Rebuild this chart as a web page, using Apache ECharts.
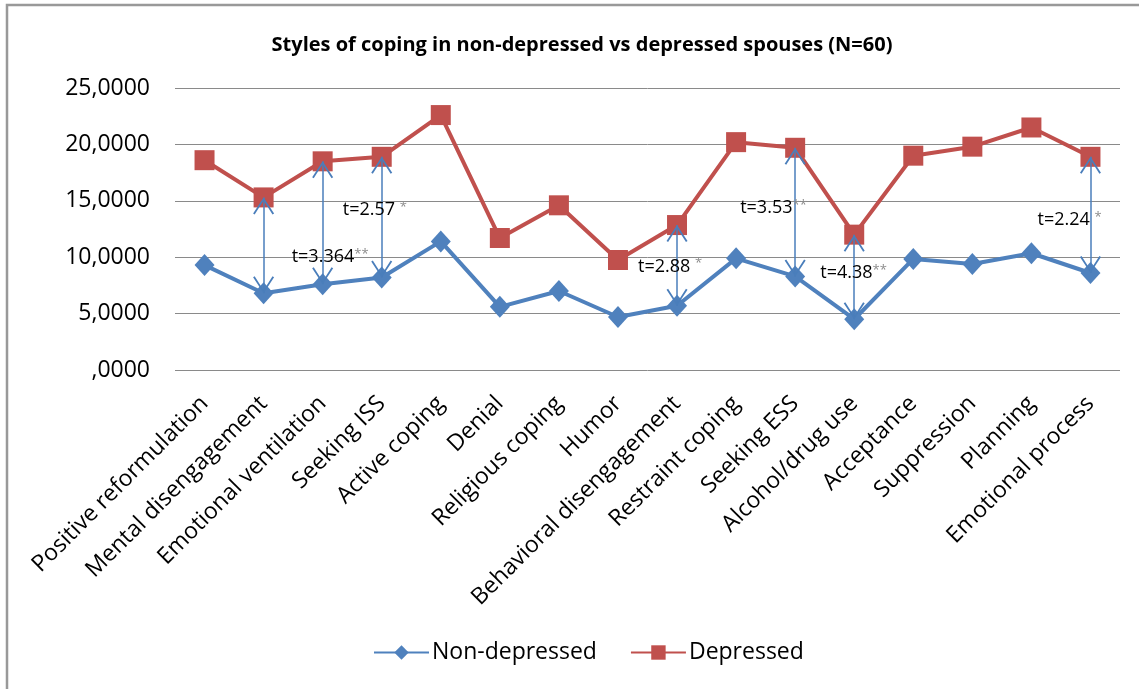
<!DOCTYPE html>
<html>
<head>
<meta charset="utf-8">
<script src="https://cdn.jsdelivr.net/npm/echarts@6/dist/echarts.min.js"></script>
<style>html,body{margin:0;padding:0;background:#fff}#c{width:1139px;height:689px}</style>
</head>
<body>
<div id="c"></div>
<script>
const categories = ['Positive reformulation','Mental disengagement','Emotional ventilation','Seeking ISS','Active coping','Denial','Religious coping','Humor','Behavioral disengagement','Restraint coping','Seeking ESS','Alcohol/drug use','Acceptance','Suppression','Planning','Emotional process'];
const nonDepressed = [9.3, 6.8, 7.6, 8.2, 11.4, 5.6, 7.0, 4.7, 5.7, 9.9, 8.3, 4.5, 9.85, 9.4, 10.35, 8.6];
const depressed = [18.6, 15.3, 18.5, 18.9, 22.6, 11.7, 14.6, 9.75, 12.85, 20.2, 19.7, 12.0, 19.0, 19.8, 21.5, 18.9];
const yTickLabels = [',0000', '5,0000', '10,0000', '15,0000', '20,0000', '25,0000'];
const arrowIdx = [1, 2, 3, 8, 10, 11, 15];
const annIdx = [2, 3, 8, 10, 11, 15];
const annY = [10.0, 14.2, 9.15, 14.35, 8.6, 13.3];
const annText = ['t=3.364', 't=2.57 ', 't=2.88 ', 't=3.53', 't=4.38', 't=2.24 '];
const annStars = ['**', '*', '*', '**', '**', '*'];
const annDx = [-31, -39, -39, -55, -34, -53];

// open chevron whose tip sits at the symbol centre (tiny dot above keeps the bbox symmetric)
const chevron = 'path://M10,0 L10.05,0 L10,0.05 Z M10,17 L20,33 L18.5,34 L10,20 L1.5,34 L0,33 Z';
const font = 'Open Sans';
const chart = echarts.init(document.getElementById('c'));
chart.setOption({
  animation: false,
  textStyle: { fontFamily: font },
  graphic: [{ type: 'rect', shape: { x: 7, y: 5, width: 1200, height: 760 }, style: { fill: 'none', stroke: '#999999', lineWidth: 2.5 }, z: -1 }],
  title: { text: 'Styles of coping in non-depressed vs depressed spouses (N=60)', left: 577, textAlign: 'center', top: 30,
    textStyle: { fontFamily: font, fontSize: 20, fontWeight: 'bold', color: '#000' } },
  grid: { left: 175, right: 19, top: 88, bottom: 319 },
  legend: { bottom: 20, left: 368, itemWidth: 55, itemHeight: 18, itemGap: 33,
    textStyle: { fontFamily: font, fontSize: 23, color: '#000', padding: [0, 0, 0, -2] },
    data: ['Non-depressed', 'Depressed'] },
  xAxis: { type: 'category', data: categories, boundaryGap: true,
    axisLine: { show: false }, axisTick: { show: false },
    axisLabel: { interval: 0, rotate: 45, margin: 30, fontFamily: font, fontSize: 23, color: '#000' } },
  yAxis: { type: 'value', min: 0, max: 25, interval: 5,
    axisLine: { show: false }, axisTick: { show: false },
    splitLine: { lineStyle: { color: '#8a8a8a', width: 1 } },
    axisLabel: { margin: 25, fontFamily: font, fontSize: 23, color: '#000',
      formatter: v => yTickLabels[Math.round(v / 5)] } },
  series: [
    { name: 'Non-depressed', type: 'line', data: nonDepressed, symbol: 'diamond', symbolSize: [20, 22],
      lineStyle: { color: '#4F81BD', width: 4 }, itemStyle: { color: '#4F81BD' }, z: 3,
      markLine: { silent: true, z: 10, symbol: [chevron, chevron], symbolSize: [21, 34],
        lineStyle: { color: '#4A7EBB', width: 1.5, type: 'solid' }, label: { show: false },
        data: arrowIdx.map(i => [{ coord: [categories[i], nonDepressed[i]] }, { coord: [categories[i], depressed[i]] }]) },
      markPoint: { silent: true, z: 11, symbol: 'circle', symbolSize: 0,
        data: annIdx.map((i, k) => ({ coord: [categories[i], annY[k]], value: k,
          label: { show: true, position: 'inside', align: 'left', offset: [annDx[k], 0],
            formatter: () => '{t|' + annText[k] + '}{s|' + annStars[k] + '}',
            rich: { t: { fontFamily: font, fontSize: 18, color: '#000' },
                    s: { fontFamily: font, fontSize: 13, color: '#8c8c8c', verticalAlign: 'top', padding: [0, 0, 6, 0] } } } })) } },
    { name: 'Depressed', type: 'line', data: depressed, symbol: 'rect', symbolSize: 20,
      lineStyle: { color: '#C0504D', width: 4 }, itemStyle: { color: '#C0504D' }, z: 2 }
  ]
});
</script>
</body>
</html>
